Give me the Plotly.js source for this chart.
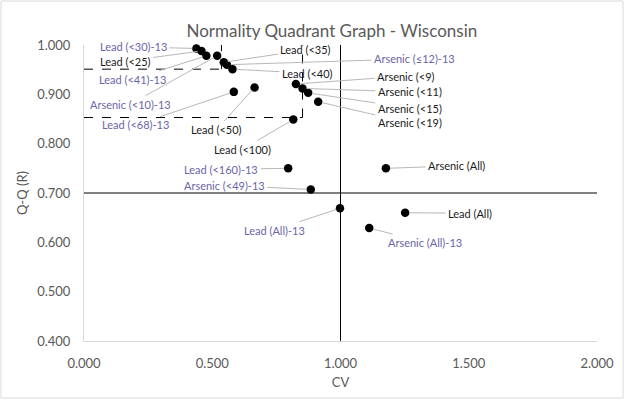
<!DOCTYPE html>
<html>
<head>
<meta charset="utf-8">
<script src="https://cdn.plot.ly/plotly-3.0.1.min.js"></script>
<style>html,body{margin:0;padding:0;background:#fff;}#chart{width:625px;height:403px;}</style>
</head>
<body>
<div id="chart"></div>
<script>
// ---- data ----
const labels = [
  "Lead (<30)-13","Lead (<25)","Lead (<41)-13","Arsenic (<10)-13","Lead (<35)",
  "Arsenic (\u226412)-13","Lead (<40)","Lead (<68)-13","Lead (<50)","Lead (<100)",
  "Arsenic (<9)","Arsenic (<11)","Arsenic (<15)","Arsenic (<19)","Lead (<160)-13",
  "Arsenic (<49)-13","Arsenic (All)","Lead (All)-13","Lead (All)","Arsenic (All)-13"
];
const cv = [0.438,0.458,0.477,0.519,0.545,0.557,0.579,0.584,0.665,0.816,
            0.826,0.852,0.874,0.913,0.796,0.884,1.177,0.998,1.252,1.112];
const qq = [0.993,0.988,0.978,0.978,0.965,0.960,0.951,0.905,0.914,0.849,
            0.921,0.912,0.903,0.885,0.750,0.707,0.750,0.669,0.660,0.629];
const xTicks = [0,0.5,1.0,1.5,2.0];
const yTicks = [0.4,0.5,0.6,0.7,0.8,0.9,1.0];
// quadrant thresholds
const cvLimit = 1.0, qqLimit = 0.7;
const box1 = {x:0.536, y:0.951};
const box2 = {x:0.852, y:0.853};

// ---- layout helpers: label positions (data coordinates) ----
const labelPos = [
  [0.193,0.996],[0.160,0.967],[0.191,0.931],[0.180,0.880],[0.865,0.990],
  [1.289,0.972],[0.871,0.943],[0.201,0.838],[0.516,0.828],[0.619,0.789],
  [1.256,0.937],[1.270,0.905],[1.270,0.872],[1.270,0.842],[0.535,0.748],
  [0.547,0.716],[1.453,0.755],[0.742,0.625],[1.506,0.659],[1.328,0.600]
];

const FONT = 'Lato, "Open Sans", sans-serif';
const purple = '#6b64a8';

const annotations = labels.map((t,i)=>({
  x: cv[i], y: qq[i], xref:'x', yref:'y',
  ax: labelPos[i][0], ay: labelPos[i][1], axref:'x', ayref:'y',
  text: t, showarrow:true, arrowhead:0, arrowwidth:1, arrowcolor:'#b8b8b8',
  standoff:4, startstandoff:1,
  font:{family:FONT, size:11, color: /-13$/.test(t) ? purple : '#1a1a1a'},
  xanchor:'center', yanchor:'middle'
}));

const dash = {color:'#000', width:1, dash:'dash'};
const solid = {color:'#000', width:1};
const shapes = [
  {type:'line', xref:'x', yref:'y', x0:0, x1:box1.x, y0:box1.y, y1:box1.y, line:dash},
  {type:'line', xref:'x', yref:'y', x0:box1.x, x1:box1.x, y0:box1.y, y1:1.0, line:dash},
  {type:'line', xref:'x', yref:'y', x0:0, x1:box2.x, y0:box2.y, y1:box2.y, line:dash},
  {type:'line', xref:'x', yref:'y', x0:box2.x, x1:box2.x, y0:box2.y, y1:1.0, line:dash},
  {type:'line', xref:'x', yref:'y', x0:cvLimit, x1:cvLimit, y0:0.4, y1:1.0, line:solid},
  {type:'line', xref:'x', yref:'y', x0:0, x1:2.0, y0:qqLimit, y1:qqLimit, line:solid},
  // chart border
  {type:'rect', xref:'paper', yref:'paper', x0:-83/513, x1:(623-84)/513, y0:-(398-341)/296, y1:1+44/296,
   line:{color:'#d9d9d9', width:1}, layer:'below'}
];

const trace = {
  x: cv, y: qq, mode:'markers', type:'scatter',
  marker:{color:'#000', size:8.5},
  hoverinfo:'text', text: labels, cliponaxis:false
};

const layout = {
  width:625, height:403,
  margin:{l:84, r:28, t:45, b:62},
  paper_bgcolor:'#fff', plot_bgcolor:'#fff',
  showlegend:false,
  font:{family:FONT, color:'#595959'},
  title:{text:'Normality Quadrant Graph - Wisconsin', font:{family:FONT, size:17, color:'#595959'},
         x:302/625, xanchor:'center', y:1-31/403, yanchor:'middle', xref:'paper', yref:'container'},
  xaxis:{range:[0,2], tickvals:xTicks, tickformat:'.3f', showgrid:false, zeroline:false,
         showline:true, linecolor:'#d9d9d9', linewidth:1, ticks:'', ticklabelstandoff:10,
         tickfont:{family:FONT, size:13, color:'#595959'},
         title:{text:'CV', font:{family:FONT, size:13, color:'#595959'}, standoff:8}},
  yaxis:{range:[0.4,1.0], tickvals:yTicks, tickformat:'.3f', showgrid:false, zeroline:false,
         showline:true, linecolor:'#d9d9d9', linewidth:1, ticks:'', ticklabelstandoff:10,
         tickfont:{family:FONT, size:13, color:'#595959'},
         title:{text:'Q-Q (R)', font:{family:FONT, size:13, color:'#595959'}, standoff:6}},
  shapes: shapes,
  annotations: annotations
};

Plotly.newPlot('chart', [trace], layout, {displayModeBar:false, staticPlot:true});
</script>
</body>
</html>
